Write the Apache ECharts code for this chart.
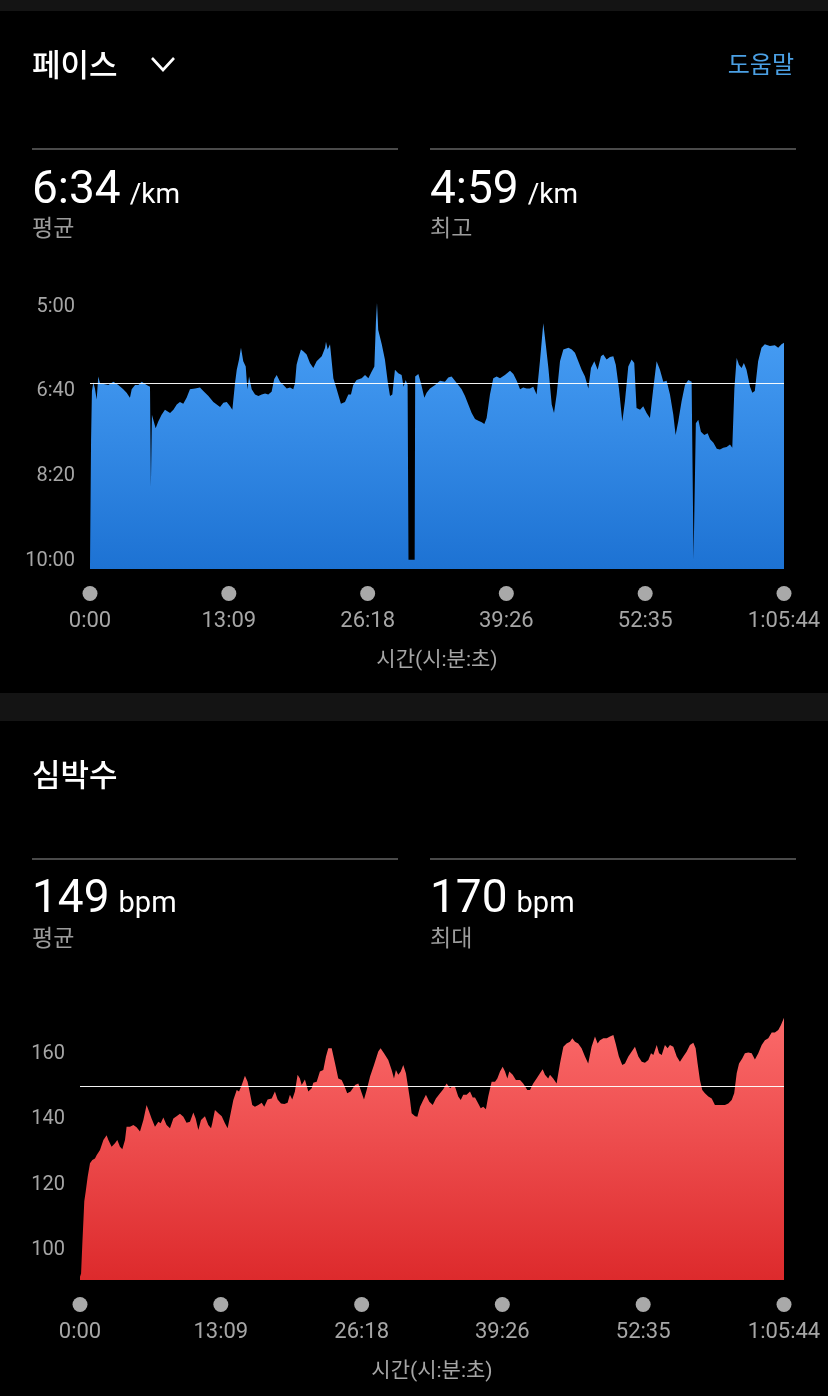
<!DOCTYPE html>
<html><head><meta charset="utf-8">
<script src="https://cdn.jsdelivr.net/npm/echarts@6/dist/echarts.min.js"></script>
<style>
html,body{margin:0;padding:0;background:#000;}
body{width:828px;height:1396px;position:relative;overflow:hidden;font-family:Roboto,"Noto Sans CJK KR",sans-serif;color:#fff;}
.band{position:absolute;left:0;width:828px;background:#141414;}
.t{position:absolute;white-space:nowrap;}
.rule{position:absolute;height:2px;background:#4a4a4a;width:366px;}
.title{font-family:"Noto Sans CJK KR",sans-serif;font-weight:500;font-size:31px;line-height:31px;}
.big{font-family:Roboto,sans-serif;font-size:46px;line-height:46px;}
.unit{font-size:28px;margin-left:9px;}
.sub{font-family:"Noto Sans CJK KR",sans-serif;font-size:23px;line-height:23px;color:#9c9c9c;}
#c{position:absolute;left:0;top:0;width:828px;height:1396px;}
</style>
</head>
<body>
<div class="band" style="top:0;height:11px"></div>
<div class="band" style="top:693px;height:28px"></div>
<div id="c"></div>

<div class="t title" style="left:32px;top:47px">페이스</div>
<svg class="t" style="left:148px;top:52px" width="30" height="24"><polyline points="4,6 15,18 26,6" fill="none" stroke="#fff" stroke-width="2.6"/></svg>
<div class="t" style="right:34px;top:51px;font-family:'Noto Sans CJK KR',sans-serif;font-size:24px;line-height:24px;color:#4ba0e4">도움말</div>
<div class="rule" style="left:32px;top:148px"></div>
<div class="rule" style="left:430px;top:148px"></div>
<div class="t big" style="left:32px;top:164px">6:34<span class="unit">/km</span></div>
<div class="t sub" style="left:32px;top:215px">평균</div>
<div class="t big" style="left:430px;top:164px">4:59<span class="unit">/km</span></div>
<div class="t sub" style="left:430px;top:215px">최고</div>

<div class="t title" style="left:32px;top:757px">심박수</div>
<div class="rule" style="left:32px;top:858px"></div>
<div class="rule" style="left:430px;top:858px"></div>
<div class="t big" style="left:32px;top:873px">149<span class="unit" style="font-size:29px">bpm</span></div>
<div class="t sub" style="left:32px;top:925px">평균</div>
<div class="t big" style="left:430px;top:873px">170<span class="unit" style="font-size:29px">bpm</span></div>
<div class="t sub" style="left:430px;top:925px">최대</div>

<script>
// ---- data (time in seconds since start) ----
const totalTime = 3944;
const timeTickValues = [0, 789, 1578, 2366, 3155, 3944];
const timeTickLabels = ['0:00', '13:09', '26:18', '39:26', '52:35', '1:05:44'];
const timeAxisName = '시간(시:분:초)';

// pace in seconds per km
const paceTickValues = [300, 400, 500, 600];
const paceTickLabels = ['5:00', '6:40', '8:20', '10:00'];
const paceAvg = 394; // 6:34
const paceTime = [0,6,11,19,28,38,47,57,85,104,133,161,189,208,227,237,256,275,294,303,322,341,346,352,373,388,407,426,436,455,474,493,511,530,549,568,597,625,644,673,701,720,739,758,777,796,809,824,834,847,858,871,885,894,904,919,938,957,976,995,1013,1032,1047,1061,1080,1099,1118,1137,1155,1165,1174,1184,1199,1212,1231,1250,1269,1288,1298,1317,1336,1341,1351,1364,1383,1402,1426,1449,1468,1483,1496,1515,1544,1563,1582,1601,1616,1625,1631,1638,1658,1676,1692,1705,1718,1733,1752,1771,1782,1794,1805,1808,1810,1845,1848,1866,1881,1900,1913,1932,1961,1989,2017,2036,2055,2074,2093,2112,2131,2150,2169,2188,2207,2226,2241,2254,2273,2292,2311,2330,2358,2387,2406,2425,2444,2462,2481,2500,2519,2538,2548,2557,2576,2590,2605,2624,2637,2652,2671,2690,2719,2738,2756,2775,2794,2813,2832,2847,2866,2885,2904,2917,2936,2955,2974,2988,3006,3025,3040,3059,3078,3093,3106,3126,3144,3163,3182,3201,3220,3239,3258,3277,3296,3315,3328,3343,3362,3381,3400,3419,3428,3430,3440,3443,3457,3472,3491,3510,3524,3543,3562,3580,3599,3618,3637,3650,3662,3675,3688,3703,3716,3731,3751,3764,3778,3797,3816,3835,3864,3892,3911,3930,3944];
const paceValue = [610,462,403,393,400,413,386,394,395,396,392,396,401,405,411,401,396,396,392,391,396,398,516,431,447,439,431,425,423,429,425,419,416,418,411,401,400,399,403,409,416,419,422,417,416,421,425,394,378,366,352,368,374,401,386,401,407,409,407,406,407,404,389,384,392,396,400,399,401,394,372,364,354,356,360,370,376,368,368,362,352,345,354,348,388,401,418,416,407,407,396,390,388,384,388,380,374,321,299,331,348,366,392,409,407,378,382,384,398,390,396,396,602,602,386,383,394,411,405,400,396,391,392,387,386,391,396,401,409,419,429,436,438,440,442,435,407,388,386,388,384,379,383,391,401,399,400,400,398,407,409,368,323,348,376,419,429,407,368,354,352,354,358,368,378,386,400,376,368,378,362,360,366,363,362,372,400,439,415,374,366,370,423,425,421,429,435,400,368,378,392,391,407,431,455,439,415,396,390,392,394,602,602,441,437,451,455,453,460,464,471,472,470,469,466,470,400,364,372,376,370,378,398,405,403,368,352,348,350,349,352,348,346];

// heart rate in bpm
const hrTickValues = [100, 120, 140, 160];
const hrAvg = 149;
const hrTime = [0,6,13,19,24,32,43,56,69,84,93,103,112,131,149,159,177,196,209,224,237,252,261,280,299,317,336,355,373,387,401,420,439,452,467,485,504,523,541,560,579,597,616,635,648,663,678,700,719,734,741,756,775,794,812,827,840,859,878,891,906,924,939,952,965,980,999,1018,1032,1051,1074,1092,1107,1126,1145,1163,1176,1189,1204,1219,1232,1242,1260,1279,1298,1307,1326,1344,1363,1378,1391,1410,1429,1447,1466,1479,1497,1516,1541,1559,1569,1591,1606,1625,1647,1671,1684,1703,1727,1746,1759,1770,1783,1797,1811,1826,1839,1849,1858,1877,1890,1905,1923,1938,1957,1976,1994,2017,2035,2054,2073,2088,2101,2119,2133,2147,2166,2185,2200,2213,2231,2245,2259,2274,2287,2306,2325,2338,2353,2368,2381,2394,2405,2424,2442,2465,2483,2506,2521,2539,2558,2577,2592,2605,2623,2633,2651,2670,2689,2708,2726,2745,2758,2773,2791,2810,2829,2847,2866,2885,2900,2913,2932,2951,2969,2988,3001,3019,3038,3053,3072,3091,3109,3128,3147,3165,3184,3199,3212,3231,3244,3259,3277,3292,3305,3324,3343,3361,3380,3399,3417,3436,3449,3460,3473,3486,3501,3520,3539,3557,3576,3595,3613,3632,3651,3665,3679,3692,3710,3725,3744,3763,3781,3800,3819,3837,3856,3875,3893,3912,3927,3944];
const hrValue = [91,92,101,108,114,117,121.5,125.6,126.6,127.1,128.1,127.6,129.7,132.7,134.2,132.7,130.7,131.7,132.7,130.7,129.9,132.7,136.8,136.8,137.3,136.6,135.3,138.8,143.4,141.4,139.3,136.8,138.3,137.8,139.6,137.3,136.3,139.3,140,140.7,139.8,138,138.3,141.1,139.3,135.8,138.8,140,137.3,136.3,137.8,141.9,140.9,140,137.8,136.3,139.8,144.9,148,147.5,149.5,152.3,150.5,147,143.4,142.9,143.4,144.1,142.9,145.1,145.4,147.5,145.1,143.9,143.7,144.1,146.5,145.1,147.5,152.6,151.5,149.5,151.2,147.5,148.5,150.2,150.5,153.6,154.1,158.2,160.7,160.7,156.1,151.5,151,149.5,147,147.5,149.5,150,148.5,145.1,148,152.1,155.6,159.7,160.7,159.2,157.1,154.1,151.5,154.1,152.6,153.6,155.6,153.1,148.5,144.9,140.9,140,139.8,142.9,144.9,146.5,144.4,143.4,145.4,147,148.2,150,148.5,149.2,149,146,144.9,146.5,146.5,147.5,145.7,145.7,143.9,142.4,142.9,142.1,146,150.5,150.5,151.5,153.6,155.1,153.6,151.5,153.6,152.6,151,151,150,148,148,150,151.5,153.1,154.3,152.6,151.5,152.6,151.5,150,156.1,161.2,162.2,162.7,163.8,162.7,162.2,160.7,158.2,156.1,161.2,164.3,162.2,163.2,163.8,163.8,164.3,164.8,162.2,158.2,155.6,156.1,158.2,159.7,161.2,158.2,156.6,156.3,157.1,159.2,158.7,161.7,159.2,158.7,161.7,160.7,161.7,161.2,158.2,156.6,158.2,159.7,161.7,162.4,160.7,156.1,151,148,147,146,145.4,143.4,143.4,143.4,143.4,143.9,144.9,147,153.1,156.1,157.6,159.2,159.4,159.2,157.3,159.2,161.7,163.2,163.8,165.5,165.5,166.3,167.8,170];

// ---- chart ----
const FONT = 'Roboto, "Noto Sans CJK KR", sans-serif';
const LABEL_COLOR = '#a6a6a6';
function timeLabel(v) {
  const i = timeTickValues.indexOf(Math.round(v));
  return i >= 0 ? timeTickLabels[i] : '';
}
function xAxisCfg(gridIndex) {
  return {
    type: 'value', gridIndex, min: 0, max: totalTime,
    axisLine: {show: false}, axisTick: {show: false}, splitLine: {show: false},
    axisLabel: {
      customValues: timeTickValues, margin: 17,
      formatter: v => '{d| }\n{t|' + timeLabel(v) + '}',
      rich: {
        d: {width: 15, height: 15, borderRadius: 7.5, backgroundColor: '#a9a9a9', lineHeight: 15},
        t: {fontSize: 22, color: LABEL_COLOR, lineHeight: 24, padding: [16, 0, 0, 0], fontFamily: FONT}
      }
    },
    name: timeAxisName, nameLocation: 'middle', nameGap: 80,
    nameTextStyle: {fontSize: 21, color: LABEL_COLOR, lineHeight: 24, fontFamily: FONT}
  };
}
const yLabelRich = {a: {fontSize: 20, color: LABEL_COLOR, fontFamily: FONT, padding: [6, 0, 0, 0]}};
const chart = echarts.init(document.getElementById('c'), null, {renderer: 'canvas', width: 828, height: 1396});
chart.setOption({
  backgroundColor: 'transparent',
  animation: false,
  textStyle: {fontFamily: FONT},
  grid: [
    {left: 90, width: 694, top: 295.2, height: 273.8},
    {left: 80, width: 704, top: 1011.3, height: 268.7}
  ],
  xAxis: [xAxisCfg(0), xAxisCfg(1)],
  yAxis: [
    {
      type: 'value', gridIndex: 0, inverse: true, min: 290, max: 613,
      axisLine: {show: false}, axisTick: {show: false}, splitLine: {show: false},
      axisLabel: {
        customValues: paceTickValues, margin: 15, rich: yLabelRich,
        formatter: v => '{a|' + (paceTickLabels[paceTickValues.indexOf(Math.round(v))] || '') + '}'
      }
    },
    {
      type: 'value', gridIndex: 1, min: 90, max: 172,
      axisLine: {show: false}, axisTick: {show: false}, splitLine: {show: false},
      axisLabel: {customValues: hrTickValues, margin: 15, rich: yLabelRich,
        formatter: v => '{a|' + Math.round(v) + '}'}
    }
  ],
  series: [
    {
      type: 'line', xAxisIndex: 0, yAxisIndex: 0,
      data: paceTime.map((t, i) => [t, paceValue[i]]),
      symbol: 'none', lineStyle: {opacity: 0}, silent: true,
      areaStyle: {
        origin: 'end', opacity: 1,
        color: new echarts.graphic.LinearGradient(0, 0, 0, 1, [
          {offset: 0, color: '#4ba2f8'}, {offset: 1, color: '#1d72d3'}
        ])
      },
      markLine: {
        silent: true, symbol: ['none', 'none'], label: {show: false},
        lineStyle: {color: '#ffffff', width: 1, type: 'solid', opacity: 0.95},
        data: [{yAxis: paceAvg}]
      }
    },
    {
      type: 'line', xAxisIndex: 1, yAxisIndex: 1,
      data: hrTime.map((t, i) => [t, hrValue[i]]),
      symbol: 'none', lineStyle: {opacity: 0}, silent: true,
      areaStyle: {
        origin: 'start', opacity: 1,
        color: new echarts.graphic.LinearGradient(0, 0, 0, 1, [
          {offset: 0, color: '#fb6a6a'}, {offset: 1, color: '#dd2a2c'}
        ])
      },
      markLine: {
        silent: true, symbol: ['none', 'none'], label: {show: false},
        lineStyle: {color: '#ffffff', width: 1, type: 'solid', opacity: 0.95},
        data: [{yAxis: hrAvg}]
      }
    }
  ]
});
</script>
</body></html>
